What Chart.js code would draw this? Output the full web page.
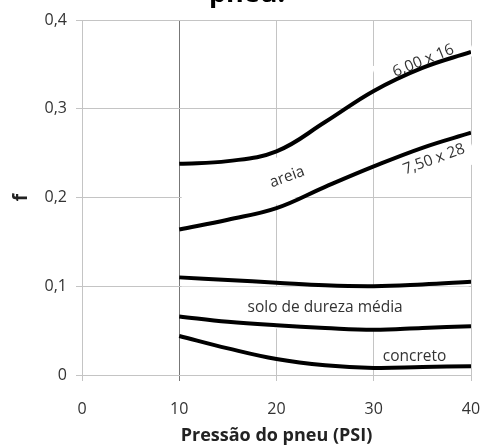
<!DOCTYPE html>
<html>
<head>
<meta charset="utf-8">
<script src="https://cdn.jsdelivr.net/npm/chart.js@4/dist/chart.umd.min.js"></script>
<style>
	html, body { margin: 0; padding: 0; background: #fff; }
	#wrap { width: 482px; height: 447px; }
</style>
</head>
<body>
<div id="wrap"><canvas id="chart-line"></canvas></div>
<script>
// Chart values
const PRESSURE = [10, 15, 20, 25, 30, 35, 40];
const TIRE_600X16 = [0.238, 0.241, 0.252, 0.285, 0.320, 0.346, 0.364];
const TIRE_750X28 = [0.164, 0.175, 0.188, 0.212, 0.235, 0.256, 0.273];
const MEDIUM_SOIL_TOP = [0.110, 0.107, 0.104, 0.101, 0.100, 0.102, 0.105];
const MEDIUM_SOIL_BOTTOM = [0.066, 0.060, 0.056, 0.053, 0.051, 0.053, 0.055];
const CONCRETE = [0.044, 0.030, 0.018, 0.011, 0.008, 0.009, 0.010];
const X_TICKS = [0, 10, 20, 30, 40];
const Y_TICKS = [0, 0.1, 0.2, 0.3, 0.4];

// Curve labels: text, x, y (data units), angle, white box around it
const LABELS = [
	{ text: "6,00 x 16", x: 35.1, y: 0.354, angle: -22, padX: 18, padY: 6, dx: 0 },
	{ text: "7,50 x 28", x: 36.2, y: 0.243, angle: -20, padX: 14, padY: 10, dx: -6 },
	{ text: "areia", x: 21.1, y: 0.223, angle: -20, padX: 60, padY: 14, dx: -28 },
	{ text: "solo de dureza média", x: 25.0, y: 0.076, angle: 0, padX: 66, padY: 13, dx: 0 },
	{ text: "concreto", x: 34.2, y: 0.021, angle: 0, padX: 6, padY: 4, dx: 0 },
];

const FONT = "'Open Sans', sans-serif";
const GRID = "#c4c4c4";
const TEXT = "#333";

const curve = (values) => ({
	data: PRESSURE.map((x, i) => ({ x, y: values[i] })),
	borderColor: "#000",
	backgroundColor: "transparent",
	borderWidth: 4,
	pointRadius: 0,
	tension: 0.4,
});

const curveLabels = {
	id: "curveLabels",
	beforeDatasetsDraw(chart) {
		const { ctx, scales } = chart;
		ctx.save();
		ctx.font = "15.5px " + FONT;
		ctx.textAlign = "center";
		ctx.textBaseline = "middle";
		LABELS.forEach((l) => {
			const w = ctx.measureText(l.text).width;
			ctx.save();
			ctx.translate(scales.x.getPixelForValue(l.x), scales.y.getPixelForValue(l.y));
			ctx.rotate((l.angle * Math.PI) / 180);
			ctx.fillStyle = "#fff";
			ctx.fillRect(l.dx - w / 2 - l.padX, -8 - l.padY, w + 2 * l.padX, 16 + 2 * l.padY);
			ctx.fillStyle = TEXT;
			ctx.fillText(l.text, 0, 0);
			ctx.restore();
		});
		ctx.restore();
	},
	afterDraw(chart) {
		// caption cut off at the top edge
		const { ctx } = chart;
		ctx.save();
		ctx.font = "bold 27px " + FONT;
		ctx.fillStyle = "#000";
		ctx.textAlign = "center";
		ctx.textBaseline = "alphabetic";
		ctx.fillText("pneu.", 247, 2);
		ctx.restore();
	},
};

const DATA = {
	datasets: [
		curve(TIRE_600X16),
		curve(TIRE_750X28),
		curve(MEDIUM_SOIL_TOP),
		curve(MEDIUM_SOIL_BOTTOM),
		curve(CONCRETE),
	],
};

const CONFIG = {
	type: "line",
	data: DATA,
	plugins: [curveLabels],
	options: {
		animation: false,
		responsive: true,
		maintainAspectRatio: false,
		layout: {
			padding: { top: 20, right: 11, left: 0, bottom: 0 },
		},
		plugins: {
			legend: { display: false },
			title: { display: false },
			tooltip: { enabled: false },
		},
		scales: {
			x: {
				type: "linear",
				min: 0,
				max: 40,
				afterBuildTicks: (s) => { s.ticks = X_TICKS.map((v) => ({ value: v })); },
				afterFit: (s) => {
					s.height = 72;
					s.paddingLeft = 0;
					s.paddingRight = 0;
				},
				border: { display: false },
				grid: {
					color: (c) => (c.tick && c.tick.value === 10 ? "#777" : GRID),
					lineWidth: 1,
					tickLength: 6,
				},
				ticks: {
					color: TEXT,
					padding: 19,
					font: { family: FONT, size: 16 },
				},
				title: {
					display: true,
					text: "Pressão do pneu (PSI)",
					color: "#222",
					padding: { top: 0, bottom: 0 },
					font: { family: FONT, size: 18, weight: "bold" },
				},
			},
			y: {
				min: 0,
				max: 0.4,
				afterBuildTicks: (s) => { s.ticks = Y_TICKS.map((v) => ({ value: v })); },
				afterFit: (s) => {
					s.width = 82;
					s.paddingTop = 0;
					s.paddingBottom = 0;
				},
				border: { display: false },
				grid: {
					color: GRID,
					lineWidth: 1,
					tickLength: 6,
				},
				ticks: {
					color: TEXT,
					padding: 9,
					font: { family: FONT, size: 16 },
					callback: (v) => (v === 0 ? "0" : v.toFixed(1).replace(".", ",")),
				},
				title: {
					display: true,
					text: "f",
					color: "#222",
					padding: { top: 10, bottom: 0 },
					font: { family: FONT, size: 19, weight: "bold" },
				},
			},
		},
	},
};

// Init chart
const WRAPPER = document.getElementById("chart-line");
if (WRAPPER) {
	new Chart(WRAPPER, CONFIG);
}
</script>
</body>
</html>
